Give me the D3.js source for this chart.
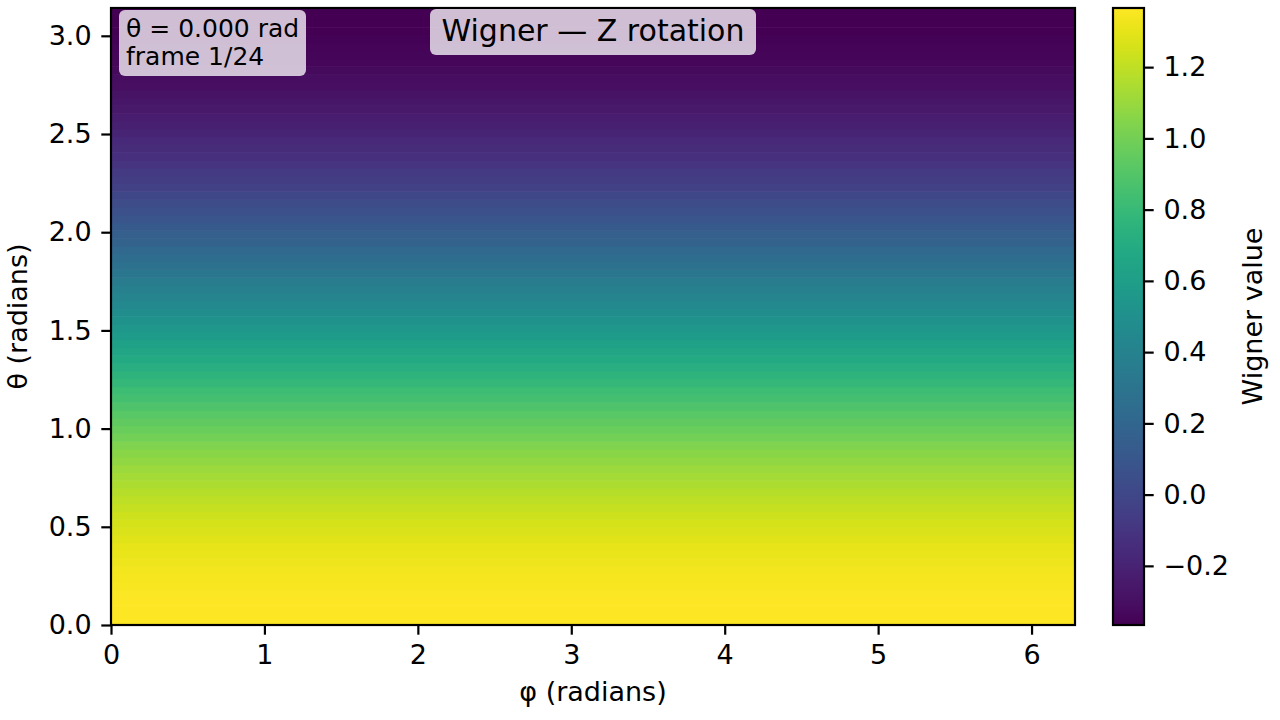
<!DOCTYPE html>
<html>
<head>
<meta charset="utf-8">
<script src="https://cdn.jsdelivr.net/npm/d3@7/dist/d3.min.js"></script>
<style>
  html, body { margin: 0; padding: 0; background: #fff; }
  svg { display: block; font-family: "DejaVu Sans", sans-serif; }
</style>
</head>
<body>
<svg id="chart" width="1280" height="720"></svg>
<script>
// ---- data ----
const titleText = "Wigner — Z rotation";
const infoLines = ["θ = 0.000 rad", "frame 1/24"];
const xLabel = "φ (radians)";
const yLabel = "θ (radians)";
const cbLabel = "Wigner value";
const xTicks = [0, 1, 2, 3, 4, 5, 6];
const yTicks = [0.0, 0.5, 1.0, 1.5, 2.0, 2.5, 3.0];
const cbTicks = [-0.2, 0.0, 0.2, 0.4, 0.6, 0.8, 1.0, 1.2];
const colorMin = -0.366;
const colorMax = 1.366;
const phiRange = [0, 2 * Math.PI];
const thetaRange = [0, Math.PI];
// Wigner value per theta row (row 0 at theta = 0, last row at theta = pi); constant along phi
const wignerValues = [
  1.3660, 1.3653, 1.3633, 1.3599, 1.3551, 1.3490, 1.3415, 1.3327, 1.3226, 1.3111,
  1.2984, 1.2845, 1.2693, 1.2529, 1.2352, 1.2165, 1.1966, 1.1756, 1.1535, 1.1304,
  1.1063, 1.0812, 1.0552, 1.0283, 1.0006, 0.9722, 0.9429, 0.9130, 0.8824, 0.8512,
  0.8195, 0.7872, 0.7545, 0.7214, 0.6879, 0.6542, 0.6202, 0.5860, 0.5516, 0.5172,
  0.4828, 0.4484, 0.4140, 0.3798, 0.3458, 0.3121, 0.2786, 0.2455, 0.2128, 0.1805,
  0.1488, 0.1176, 0.0870, 0.0571, 0.0278, -0.0006, -0.0283, -0.0552, -0.0812, -0.1063,
  -0.1304, -0.1535, -0.1756, -0.1966, -0.2165, -0.2352, -0.2529, -0.2693, -0.2845, -0.2984,
  -0.3111, -0.3226, -0.3327, -0.3415, -0.3490, -0.3551, -0.3599, -0.3633, -0.3653, -0.3660
];

// ---- layout ----
const L = 111, R = 1075, T = 8, B = 625;
const cbX = 1113, cbW = 31;
const tickLen = 9.7, tickPad = 9.7, lw = 2.2;
const tickFont = 27;

const svg = d3.select("#chart");
const x = d3.scaleLinear().domain(phiRange).range([L, R]);
const y = d3.scaleLinear().domain(thetaRange).range([B, T]);
const color = d3.scaleSequential(d3.interpolateViridis).domain([colorMin, colorMax]);

// theta grid (cell centres) and cell half height
const n = wignerValues.length;
const thetaStep = (thetaRange[1] - thetaRange[0]) / (n - 1);
const rows = wignerValues.map((v, i) => {
  const c = thetaRange[0] + i * thetaStep;
  const lo = Math.max(thetaRange[0], c - thetaStep / 2);
  const hi = Math.min(thetaRange[1], c + thetaStep / 2);
  return { v, lo, hi };
});

const defs = svg.append("defs");
defs.append("clipPath").attr("id", "plotclip")
  .append("rect").attr("x", L).attr("y", T).attr("width", R - L).attr("height", B - T);

svg.append("g").attr("clip-path", "url(#plotclip)")
  .selectAll("rect").data(rows).join("rect")
  .attr("x", x(phiRange[0]))
  .attr("width", x(phiRange[1]) - x(phiRange[0]))
  .attr("y", d => y(d.hi) - 0.3)
  .attr("height", d => y(d.lo) - y(d.hi) + 0.6)
  .attr("fill", d => color(d.v));

// axes
const xAxis = d3.axisBottom(x).tickValues(xTicks).tickFormat(d3.format("d"))
  .tickSize(tickLen).tickPadding(tickPad);
const yAxis = d3.axisLeft(y).tickValues(yTicks).tickFormat(d3.format(".1f"))
  .tickSize(tickLen).tickPadding(tickPad);

function styleAxis(g) {
  g.select(".domain").remove();
  g.selectAll(".tick line").attr("stroke", "#000").attr("stroke-width", lw);
  g.selectAll(".tick text").attr("fill", "#000")
    .style("font-family", "DejaVu Sans").style("font-size", tickFont + "px");
}
svg.append("g").attr("transform", `translate(0,${B})`).call(xAxis).call(styleAxis);
svg.append("g").attr("transform", `translate(${L},0)`).call(yAxis).call(styleAxis);

// frame
svg.append("rect").attr("x", L).attr("y", T).attr("width", R - L).attr("height", B - T)
  .attr("fill", "none").attr("stroke", "#000").attr("stroke-width", lw);

// axis labels
svg.append("text").attr("x", (L + R) / 2).attr("y", 701).attr("text-anchor", "middle")
  .style("font-size", tickFont + "px").text(xLabel);
svg.append("text").attr("transform", `translate(27,${(T + B) / 2}) rotate(-90)`)
  .attr("text-anchor", "middle").style("font-size", tickFont + "px").text(yLabel);

// info box
svg.append("rect").attr("x", 119).attr("y", 10).attr("width", 187).attr("height", 66)
  .attr("rx", 6).attr("fill", "#fff").attr("fill-opacity", 0.75);
svg.append("g").selectAll("text").data(infoLines).join("text")
  .attr("x", 126).attr("y", (d, i) => 37 + i * 28)
  .style("font-size", "25px").text(d => d);

// title box
svg.append("rect").attr("x", 430).attr("y", 9).attr("width", 326).attr("height", 46)
  .attr("rx", 6).attr("fill", "#fff").attr("fill-opacity", 0.75);
svg.append("text").attr("x", (L + R) / 2).attr("y", 41).attr("text-anchor", "middle")
  .style("font-size", "30px").text(titleText);

// colorbar
const cb = d3.scaleLinear().domain([colorMin, colorMax]).range([B, T]);
const grad = defs.append("linearGradient").attr("id", "cbgrad")
  .attr("x1", 0).attr("y1", 0).attr("x2", 0).attr("y2", 1);
d3.range(0, 1.0001, 0.02).forEach(t => {
  grad.append("stop").attr("offset", t)
    .attr("stop-color", color(colorMax - t * (colorMax - colorMin)));
});
svg.append("rect").attr("x", cbX).attr("y", T).attr("width", cbW).attr("height", B - T)
  .attr("fill", "url(#cbgrad)").attr("stroke", "#000").attr("stroke-width", lw);
const cbAxis = d3.axisRight(cb).tickValues(cbTicks).tickFormat(d3.format(".1f"))
  .tickSize(tickLen).tickPadding(tickPad);
svg.append("g").attr("transform", `translate(${cbX + cbW},0)`).call(cbAxis).call(styleAxis);
svg.append("text").attr("transform", `translate(1262,${(T + B) / 2}) rotate(-90)`)
  .attr("text-anchor", "middle").style("font-size", tickFont + "px").text(cbLabel);
</script>
</body>
</html>
